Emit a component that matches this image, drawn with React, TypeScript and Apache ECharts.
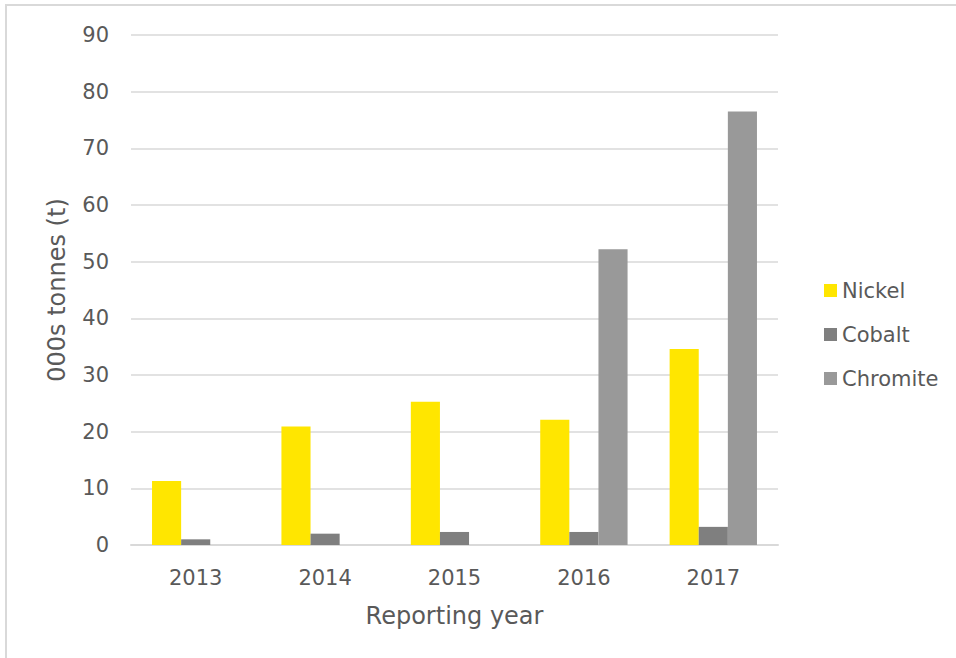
import React, { useEffect, useRef } from "react";
import * as echarts from "echarts";

const years = ["2013", "2014", "2015", "2016", "2017"];
const nickel = [11.3, 20.9, 25.3, 22.1, 34.6];
const cobalt = [1.0, 2.0, 2.3, 2.3, 3.2];
const chromite = [0, 0, 0, 52.2, 76.5];
const yTicks = { min: 0, max: 90, interval: 10 };

const FONT = "'DejaVu Sans', 'Noto Sans', sans-serif";
const TXT = "#595959";

export default function App() {
  const ref = useRef<HTMLDivElement>(null);
  useEffect(() => {
    if (!ref.current) return;
    const chart = echarts.init(ref.current, null, { renderer: "svg" });
    chart.setOption({
      animation: false,
      backgroundColor: "#ffffff",
      textStyle: { fontFamily: FONT, color: TXT },
      grid: { left: 131, right: 178, top: 35, bottom: 113, containLabel: false },
      legend: {
        orient: "vertical",
        left: 819,
        top: 275,
        itemWidth: 13,
        itemHeight: 13,
        itemGap: 23,
        icon: "rect",
        textStyle: { fontFamily: FONT, fontSize: 21, color: TXT },
        data: ["Nickel", "Cobalt", "Chromite"],
      },
      xAxis: {
        type: "category",
        data: years,
        name: "Reporting year",
        nameLocation: "middle",
        nameGap: 59,
        nameTextStyle: { fontFamily: FONT, fontSize: 24, color: TXT },
        axisLine: { show: true, lineStyle: { color: "#d9d9d9", width: 2 } },
        axisTick: { show: false },
        axisLabel: { fontFamily: FONT, fontSize: 21, color: TXT, margin: 22 },
      },
      yAxis: {
        type: "value",
        min: yTicks.min,
        max: yTicks.max,
        interval: yTicks.interval,
        name: "000s tonnes (t)",
        nameLocation: "middle",
        nameGap: 62,
        nameTextStyle: { fontFamily: FONT, fontSize: 24, color: TXT },
        axisLine: { show: false },
        axisTick: { show: false },
        axisLabel: { fontFamily: FONT, fontSize: 21, color: TXT, margin: 22 },
        splitLine: { lineStyle: { color: "#d9d9d9", width: 1.5 } },
      },
      series: [
        {
          name: "Nickel",
          type: "bar",
          data: nickel,
          barWidth: "22.5%",
          barGap: "0%",
          itemStyle: { color: "#FFE600" },
        },
        {
          name: "Cobalt",
          type: "bar",
          data: cobalt,
          barWidth: "22.5%",
          barGap: "0%",
          itemStyle: { color: "#7f7f7f" },
        },
        {
          name: "Chromite",
          type: "bar",
          data: chromite,
          barWidth: "22.5%",
          barGap: "0%",
          itemStyle: { color: "#999999" },
        },
      ],
      graphic: [
        {
          type: "line",
          shape: { x1: 5, y1: 5, x2: 956, y2: 5 },
          style: { stroke: "#d9d9d9", lineWidth: 2 },
        },
        {
          type: "line",
          shape: { x1: 6, y1: 5, x2: 6, y2: 658 },
          style: { stroke: "#d9d9d9", lineWidth: 2 },
        },
      ],
    });
    return () => chart.dispose();
  }, []);
  return (
    <div
      ref={ref}
      style={{ position: "absolute", left: 0, top: 0, width: 956, height: 658 }}
    />
  );
}
